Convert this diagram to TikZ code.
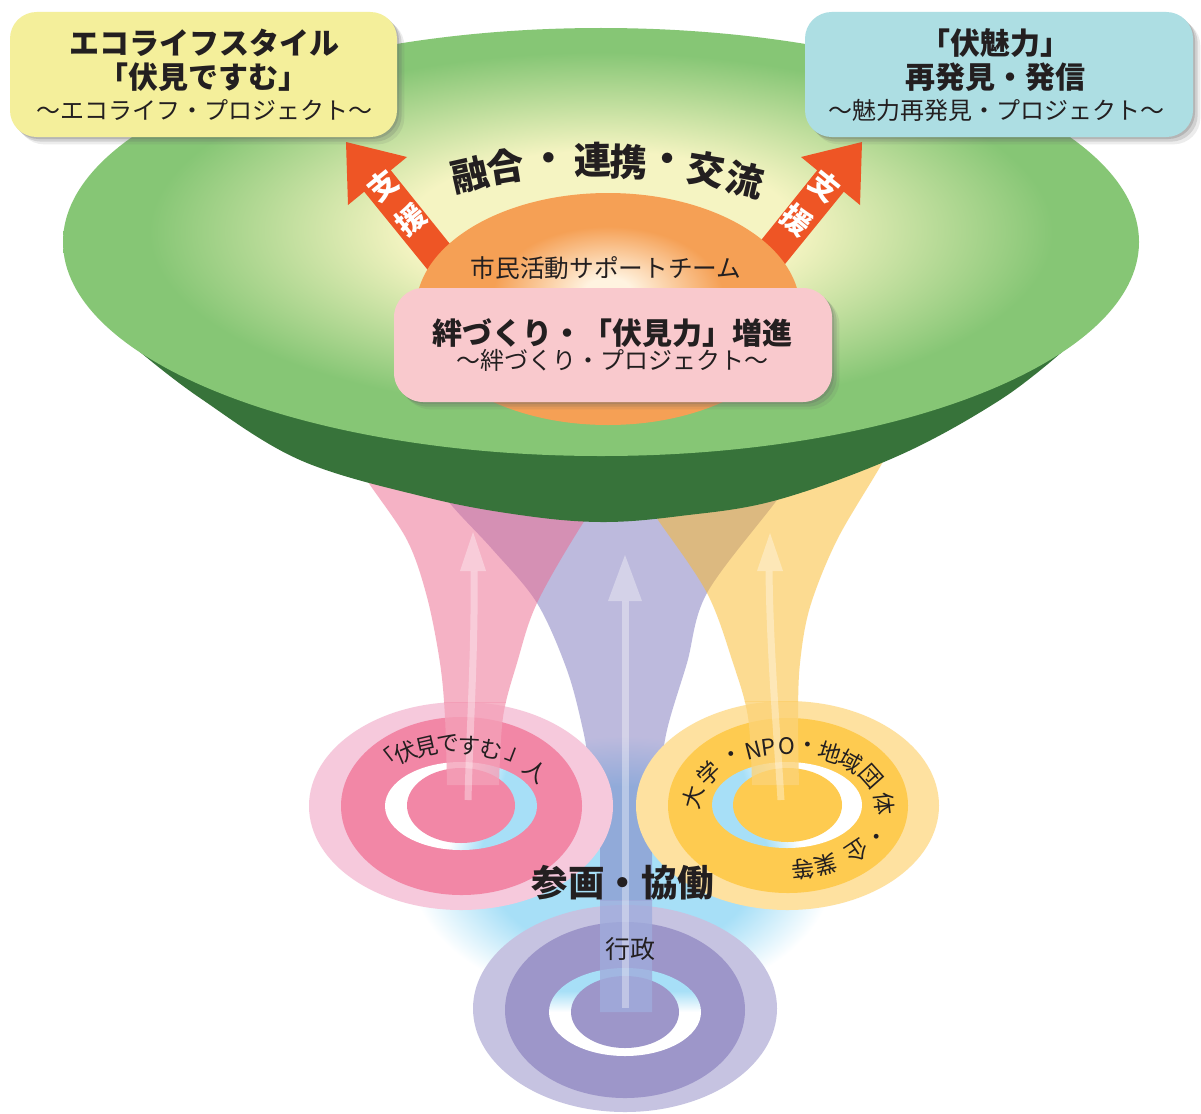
\documentclass[tikz,border=0pt]{standalone}
\usepackage{fontspec}
\setmainfont{Noto Sans CJK JP}
\usetikzlibrary{shadows}

\definecolor{txt}{HTML}{231F20}
\definecolor{greenL}{HTML}{86C675}
\definecolor{paleY}{HTML}{F5F4C2}
\definecolor{greenD}{HTML}{37733A}
\definecolor{domeO}{HTML}{F5A055}
\definecolor{domeC}{HTML}{FFF3E0}
\definecolor{arrowR}{HTML}{EE5525}
\definecolor{boxY}{HTML}{F4EF9B}
\definecolor{boxB}{HTML}{ADDEE3}
\definecolor{boxP}{HTML}{F9C9CD}
\definecolor{glowB}{HTML}{A7DFF7}
\definecolor{pinkOut}{HTML}{F6C9DC}
\definecolor{pinkMid}{HTML}{F287A6}
\definecolor{yelOut}{HTML}{FEE1A0}
\definecolor{yelMid}{HTML}{FECB50}
\definecolor{purOut}{HTML}{C6C3E1}
\definecolor{purMid}{HTML}{9D96C9}
\definecolor{beamP}{RGB}{237,103,141}
\definecolor{beamV}{RGB}{125,119,189}
\definecolor{beamY}{RGB}{251,185,37}
\definecolor{stripeP}{RGB}{244,160,184}
\definecolor{stripeV}{RGB}{160,172,220}
\definecolor{stripeY}{RGB}{252,211,119}

\pgfdeclareradialshading{greenglow}{\pgfpoint{0bp}{2bp}}{color(0bp)=(paleY); color(9bp)=(paleY); color(21bp)=(greenL); color(25bp)=(greenL); color(50bp)=(greenL)}
\pgfdeclareradialshading{domeshade}{\pgfpoint{0bp}{4bp}}{color(0bp)=(domeC); color(3bp)=(domeC); color(15bp)=(domeO); color(25bp)=(domeO); color(50bp)=(domeO)}
\pgfdeclareradialshading{blueglow}{\pgfpoint{0bp}{0bp}}{color(0bp)=(glowB); color(15bp)=(glowB); color(24bp)=(white); color(50bp)=(white)}
\pgfdeclarehorizontalshading{ringshade}{100bp}{color(0bp)=(white); color(50bp)=(white); color(62bp)=(glowB); color(100bp)=(glowB)}

\begin{document}
\begin{tikzpicture}[x=0.75pt, y=-0.75pt,
  lbl/.style={inner sep=0pt, text=txt},
  ftitle/.style={font=\fontsize{22.5pt}{26pt}\selectfont\bfseries},
  fsub/.style={font=\fontsize{18pt}{21pt}\selectfont},
  fbig/.style={font=\fontsize{28pt}{32pt}\selectfont\bfseries},
  fteam/.style={font=\fontsize{18.5pt}{22pt}\selectfont},
  fring/.style={font=\fontsize{17pt}{20pt}\selectfont},
  fshien/.style={font=\fontsize{22pt}{26pt}\selectfont\bfseries, text=white, inner sep=0pt},
  softshadow/.style={
    drop shadow={shadow xshift=1.5pt, shadow yshift=-1.5pt, opacity=.25, fill=black!60},
    drop shadow={shadow xshift=3.5pt, shadow yshift=-3.5pt, opacity=.2, fill=black!60},
    drop shadow={shadow xshift=5.5pt, shadow yshift=-5.5pt, opacity=.12, fill=black!60}},
  panel/.style={softshadow, inner sep=0pt},
  beamtip/.style={fill=white, opacity=.35},
  beamshaft/.style={draw=white, opacity=.35, line width=5.25pt},
]
\useasboundingbox (0,0) rectangle (1201,1113);
\fill[white] (0,0) rectangle (1201,1113);

% light blue glow
\shade[shading=blueglow] (622,870) ellipse [x radius=220, y radius=140];

% beam outlines (saved)
\path[save path=\purplebeam] (600,1012) -- plot[smooth, tension=.55] coordinates {(600,840) (590,772) (583,730) (567,670) (537,603) (493,550) (453,507) (415,460)} -- plot[smooth, tension=.55] coordinates {(820,440) (777,500) (707,593) (687,663) (667,730) (658,790) (652,840)} -- (652,1012) -- cycle;
\path[save path=\pinkbeam] plot[smooth, tension=.55] coordinates {(447,785) (445,717) (440,663) (427,597) (407,540) (368,482) (330,425)} -- plot[smooth, tension=.55] coordinates {(640,440) (583,523) (537,603) (517,663) (503,717) (499,785)} -- cycle;
\path[save path=\yellowbeam] plot[smooth, tension=.55] coordinates {(752,785) (748,717) (733,663) (707,593) (658,520) (615,460)} -- plot[smooth, tension=.55] coordinates {(915,405) (880,467) (837,540) (810,607) (800,663) (798,717) (799,785)} -- cycle;

% administration rings
\fill[purOut] (625,1008.5) ellipse [x radius=152, y radius=103.5];
\fill[purMid] (625,1010) ellipse [x radius=120, y radius=88];
\shade[shading=ringshade, shading angle=90] (625,1012) ellipse [x radius=76, y radius=44];
\fill[purMid] (625,1012) ellipse [x radius=54, y radius=36];

% purple beam
\begin{scope}
  \clip (0,0) rectangle (1201,900);
  \fill[beamV, opacity=.5, use path=\purplebeam];
\end{scope}
\begin{scope}
  \clip (0,900) rectangle (1201,1113);
  \fill[stripeV, opacity=.8, use path=\purplebeam];
\end{scope}
\fill[beamtip] (625,555) -- (642,601) -- (608,601) -- cycle;
\draw[beamshaft] (625,601) -- (625,1008);

% citizens rings
\fill[pinkOut] (461,806) ellipse [x radius=152, y radius=104];
\fill[pinkMid] (461.5,806) ellipse [x radius=120.5, y radius=89];
\shade[shading=ringshade, shading angle=-18] (461,806) ellipse [x radius=76, y radius=44];
\fill[pinkMid] (461,805.5) ellipse [x radius=54, y radius=37.5];

% pink beam
\begin{scope}
  \clip (0,0) rectangle (1201,702);
  \fill[beamP, opacity=.5, use path=\pinkbeam];
\end{scope}
\begin{scope}
  \clip (0,702) rectangle (1201,1113);
  \fill[stripeP, opacity=.8, use path=\pinkbeam];
\end{scope}
\fill[beamtip] (473,532) -- (486,571) -- (460,571) -- cycle;
\draw[beamshaft] (474,571) .. controls (475,650) and (470,720) .. (468,800);

% university / NPO rings
\fill[yelOut] (787.5,805.5) ellipse [x radius=151.5, y radius=104.5];
\fill[yelMid] (788,805.5) ellipse [x radius=120, y radius=87.5];
\shade[shading=ringshade, shading angle=-162] (787,805) ellipse [x radius=75, y radius=43];
\fill[yelMid] (787.5,805) ellipse [x radius=54.5, y radius=37];

% yellow beam
\begin{scope}
  \clip (0,0) rectangle (1201,701);
  \fill[beamY, opacity=.5, use path=\yellowbeam];
\end{scope}
\begin{scope}
  \clip (0,701) rectangle (1201,1113);
  \fill[stripeY, opacity=.8, use path=\yellowbeam];
\end{scope}
\fill[beamtip] (770,533) -- (783,571) -- (757,571) -- cycle;
\draw[beamshaft] (769,571) .. controls (770,650) and (776,720) .. (781,800);

% green disc
\fill[greenD] plot[smooth, tension=.6] coordinates {(140,352) (200,398) (300,460) (425,497) (520,515) (601,522) (680,516) (777,500) (900,455) (1000,400) (1062,352)} -- (1062,240) -- (140,240) -- cycle;
\shade[shading=greenglow] (601,242) ellipse [x radius=538, y radius=214];

% support arrows
\fill[arrowR] (346,142) -- (348,205) -- (364.2,191.7) -- (440,285) -- (466,264) -- (390.8,170.3) -- (407,157) -- cycle;
\fill[arrowR] (862,142) -- (860,205) -- (843.8,191.7) -- (768,285) -- (742,264) -- (817.2,170.3) -- (801,157) -- cycle;
\node[fshien, rotate=39] (shiL1) at (383,186) {支};
\node[fshien, rotate=39] (shiL2) at (411,220) {援};
\node[fshien, rotate=-39] (shiR1) at (825,186) {支};
\node[fshien, rotate=-39] (shiR2) at (797,220) {援};

% orange dome
\shade[shading=domeshade] (608,309) ellipse [x radius=192, y radius=116];
\node[lbl, fteam] (team) at (606,268) {市民活動サポートチーム};

% arched heading
\foreach \ch/\px/\py/\rot [count=\i] in {融/470/175/12.7, 合/506/167/9.3, ・/549/162/5, 連/593/160/1.1, 携/629/162/-2.1, ・/667/163/-6, 交/706/170/-9.4, 流/745/180/-13.2}
  \node[lbl, fbig, rotate=\rot] (yugo\i) at (\px,\py) {\ch};

% centre panel
\node[panel, fill=boxP, rounded corners=22pt, minimum width=328.5pt, minimum height=85.5pt] (kizunabox) at (613,345) {};
\node[lbl, ftitle] (kizuna1) at (612.5,333) {絆づくり・「伏見力」増進};
\node[lbl, fsub] (kizuna2) at (612.5,360) {～絆づくり・プロジェクト～};

% top panels
\node[panel, fill=boxY, rounded corners=20pt, minimum width=290.25pt, minimum height=93.75pt] (ecobox) at (203.5,74.5) {};
\node[lbl, ftitle] (eco1) at (204,43) {エコライフスタイル};
\node[lbl, ftitle] (eco2) at (203,77) {「伏見ですむ」};
\node[lbl, fsub] (eco3) at (204,110) {～エコライフ・プロジェクト～};

\node[panel, fill=boxB, rounded corners=20pt, minimum width=291pt, minimum height=93.75pt] (mirbox) at (999,74.5) {};
\node[lbl, ftitle] (mir1) at (995,43) {「伏魅力」};
\node[lbl, ftitle] (mir2) at (995,77) {再発見・発信};
\node[lbl, fsub] (mir3) at (996.5,110) {～魅力再発見・プロジェクト～};

% ring texts
\foreach \ch/\px/\py/\rot [count=\i] in {「/387/760/38, 伏/406/752/23, 見/427/747/13, で/448/744/5, す/469/746/-3, む/491/750/-12, 」/517/757/-21, 人/536/771/-39}
  \node[lbl, fring, rotate=\rot] (pc\i) at (\px,\py) {\ch};

\foreach \ch/\t [count=\i] in {大/170, 学/146, ・/125, N/111, P/102, O/91, ・/78, 地/64, 域/49, 団/30, 体/4, ・/-25.6, 企/-44, 業/-67, 等/-81} {
  \pgfmathsetmacro\px{788+96*cos(\t)}
  \pgfmathsetmacro\py{808-62*sin(\t)}
  \pgfmathsetmacro\rot{atan2(96*sin(\t), 62*cos(\t))-90}
  \node[lbl, fring, rotate=\rot] (yc\i) at (\px,\py) {\ch};
}

\node[lbl, font=\fontsize{27.4pt}{31pt}\selectfont\bfseries] (sankaku) at (623,883) {参画・協働};
\node[lbl, font=\fontsize{18.75pt}{22pt}\selectfont] (gyosei) at (630,949) {行政};
\end{tikzpicture}
\end{document}
